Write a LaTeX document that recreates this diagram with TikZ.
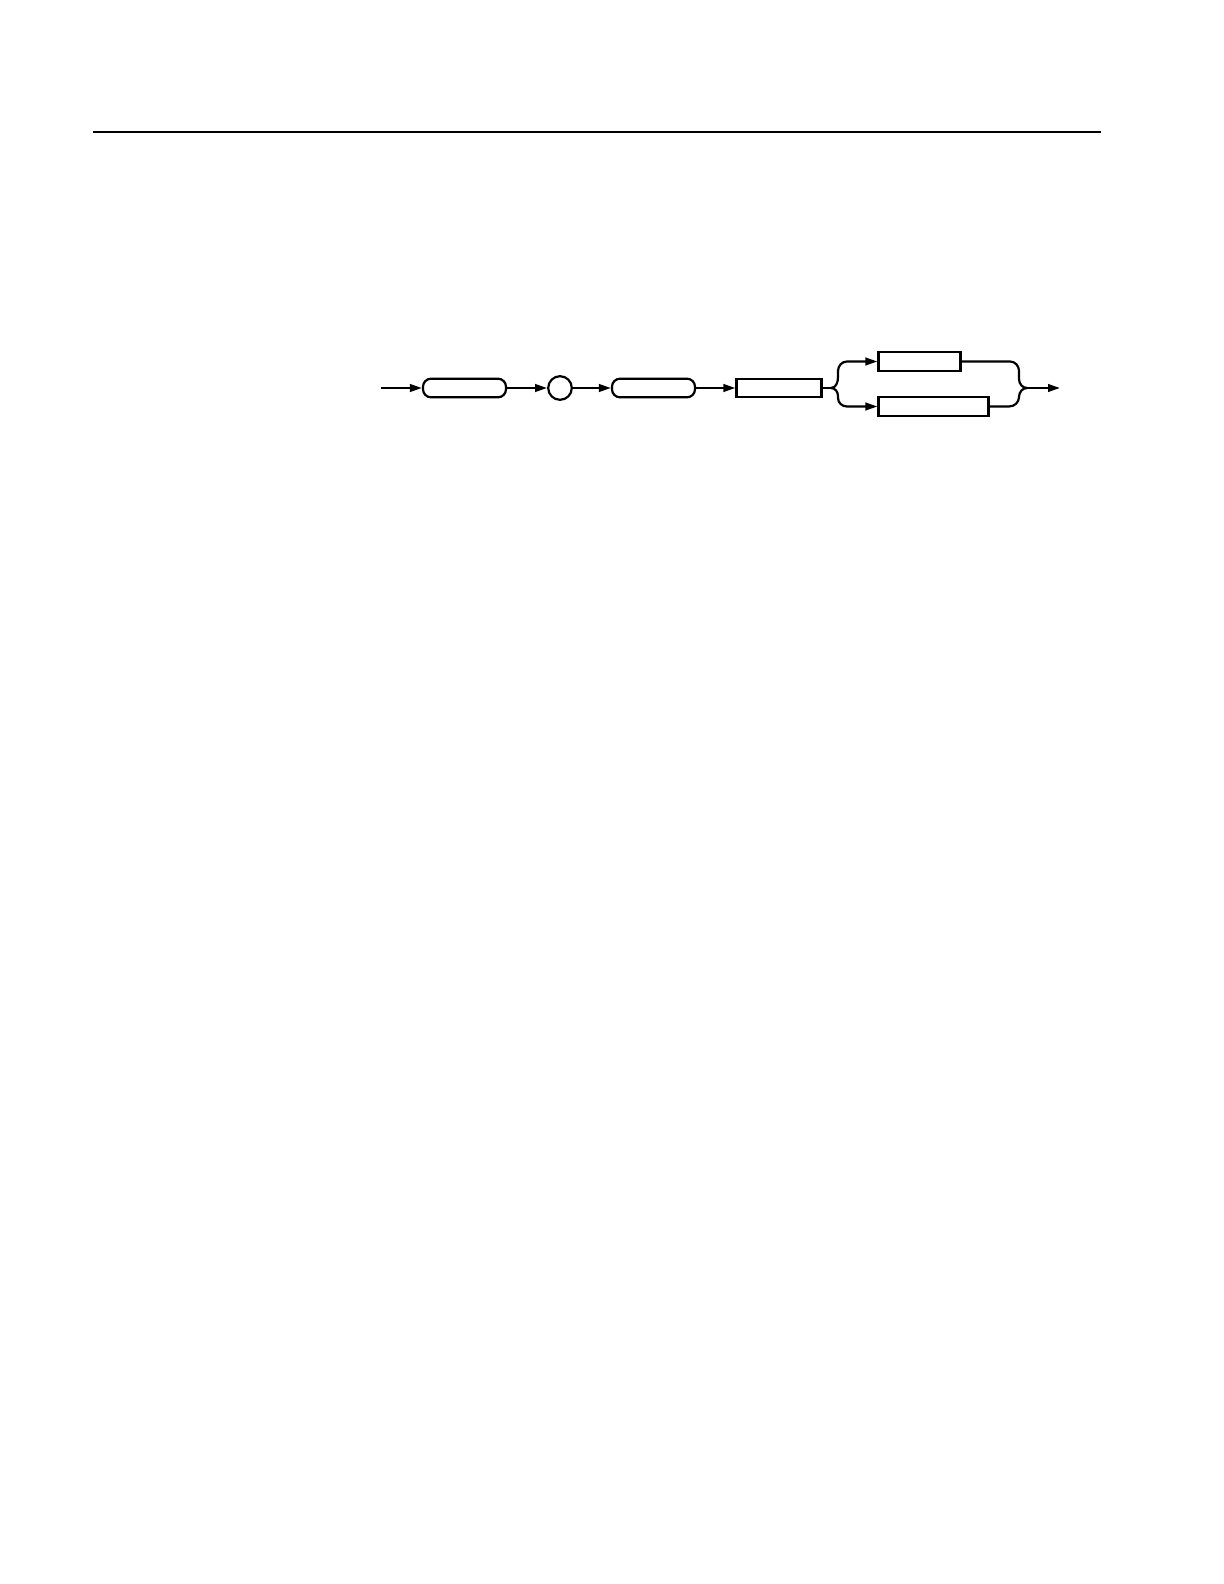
\documentclass[tikz,border=0pt]{standalone}
\usetikzlibrary{arrows.meta}
\begin{document}
\begin{tikzpicture}[x=0.5pt,y=-0.5pt,
  line width=1.1pt,
  arr/.style={-{Triangle[length=6pt,width=3.8pt]}},
  rbox/.style={draw,rounded corners=4pt,minimum width=41.5pt,minimum height=9.3pt,inner sep=0pt},
  sbox/.style={draw,minimum height=9.3pt,inner sep=0pt},
  cnode/.style={draw,circle,minimum size=11.8pt,inner sep=0pt},
  rule/.style={line width=0.7pt}]
\useasboundingbox (0,0) rectangle (1224,1584);
\coordinate (r1) at (93,132);
\coordinate (r2) at (1101,132);
\draw[rule] (r1) -- (r2);
\coordinate (s) at (381,388);
\node[rbox] (b1) at (464.5,388) {};
\node[cnode] (c) at (560,388) {};
\node[rbox] (b2) at (653.5,388) {};
\node[sbox,minimum width=42.5pt] (b3) at (779,388) {};
\node[sbox,minimum width=41pt] (b4) at (919.5,361.5) {};
\node[sbox,minimum width=55pt] (b5) at (933.5,406.5) {};
\coordinate (j1) at (831,388);
\coordinate (j2) at (1027,388);
\coordinate (e) at (1060,388);
\draw[arr] (s) -- (b1.west);
\draw[arr] (b1.east) -- (c.west);
\draw[arr] (c.east) -- (b2.west);
\draw[arr] (b2.east) -- (b3.west);
\draw (b3.east) -- (j1);
\draw[arr] (j1) to[out=0,in=-90] (838,377) -- (838,371) to[out=90,in=180] (847,361.5) -- (b4.west);
\draw[arr] (j1) to[out=0,in=90] (838,396) -- (838,398) to[out=-90,in=180] (847,406.5) -- (b5.west);
\draw (b4.east) -- (1010,361.5) to[out=0,in=90] (1019,371) -- (1019,379) to[out=-90,in=180] (j2);
\draw (b5.east) -- (1009,406.5) to[out=0,in=-90] (1019,397) to[out=90,in=180] (j2);
\draw[arr] (j2) -- (e);
\end{tikzpicture}
\end{document}
